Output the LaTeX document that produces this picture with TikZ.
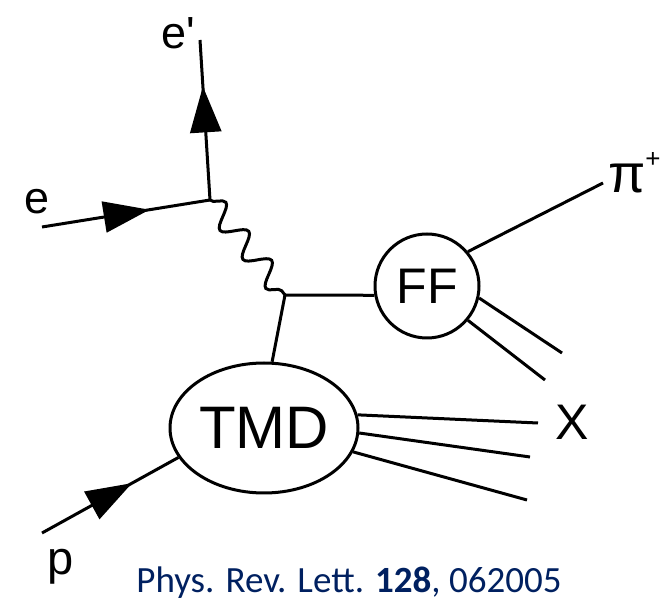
\documentclass[tikz,border=0pt]{standalone}
\usepackage{fontspec}
\setmainfont{Liberation Sans}
\newfontfamily\citefont{Carlito}
\usetikzlibrary{arrows.meta,decorations.pathmorphing,decorations.markings,shapes.geometric}
\definecolor{citeblue}{RGB}{0,32,96}
\begin{document}
\begin{tikzpicture}[x=1pt,y=-1pt,
  line/.style={line width=3pt},
  fermion/.style={line, postaction={decorate}, decoration={markings, mark=at position #1 with {\arrow{Triangle[length=46pt,width=31pt]}}}},
  photon/.style={line, decorate, decoration={snake, segment length=37pt, amplitude=11pt}},
  blob/.style={draw, line width=3pt, inner sep=0pt, fill=white},
  lbl/.style={inner sep=0pt}
]
\useasboundingbox (0,0) rectangle (662,601);
% blobs
\node[blob, ellipse, minimum width=188pt, minimum height=130pt, font=\fontsize{60}{72}\selectfont] (tmd) at (264,428) {TMD};
\node[blob, circle, minimum size=104pt, font=\fontsize{50}{60}\selectfont] (ff) at (427,286) {FF};
% vertices and free ends
\coordinate (v1) at (210,200);
\coordinate (v2) at (285,295);
\coordinate (ein) at (42,227);
\coordinate (eout) at (200,40);
\coordinate (pin) at (42,533);
\coordinate (pip) at (603,183);
\coordinate (f2) at (562,353);
\coordinate (f3) at (545,380);
\coordinate (x1) at (538,423);
\coordinate (x2) at (530,457);
\coordinate (x3) at (527,500);
% lines
\draw[fermion=0.64] (ein) -- (v1);
\draw[fermion=0.71] (v1) -- (eout);
\draw[photon] (v1) -- (v2);
\draw[line] (v2) -- (ff.190);
\draw[line] (v2) -- (tmd.83);
\draw[fermion=0.66] (pin) -- (tmd.199);
\draw[line] (ff.40) -- (pip);
\draw[line] (ff.-13) -- (f2);
\draw[line] (ff.-40) -- (f3);
\draw[line] (tmd.8) -- (x1);
\draw[line] (tmd.-3) -- (x2);
\draw[line] (tmd.-15) -- (x3);
% labels
\node[lbl, font=\fontsize{45}{54}\selectfont] (e) at (37,202) {e};
\node[lbl, font=\fontsize{45}{54}\selectfont] (ep) at (178,33) {e\textquotesingle};
\node[lbl, anchor=base west, font=\fontsize{54}{60}\selectfont] (pi) at (608,193) {π\raisebox{25pt}{\fontsize{26}{26}\selectfont +}};
\node[lbl, font=\fontsize{50}{60}\selectfont] (X) at (572,422) {X};
\node[lbl, font=\fontsize{47}{56}\selectfont] (p) at (61,567) {p};
\node[lbl, text=citeblue, font=\citefont\fontsize{37}{44}\selectfont] (cite) at (349,583) {Phys. Rev. Lett. \textbf{128}, 062005};
\end{tikzpicture}
\end{document}
